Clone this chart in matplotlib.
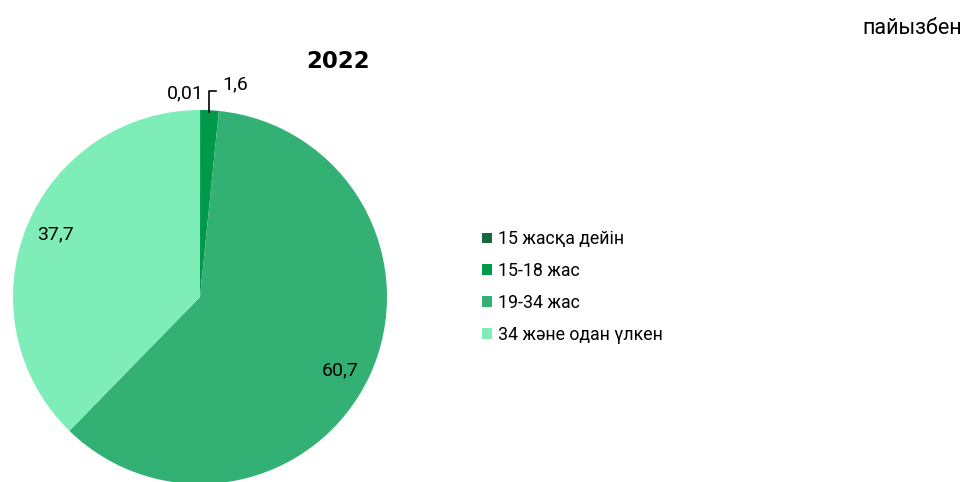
import matplotlib
matplotlib.use("Agg")
import matplotlib.pyplot as plt
from matplotlib.patches import Patch

plt.rcParams['font.family'] = ['Roboto', 'DejaVu Sans']

categories = ["15 жасқа дейін", "15-18 жас", "19-34 жас", "34 және одан үлкен"]
values = [0.01, 1.6, 60.7, 37.7]
value_labels = ["0,01", "1,6", "60,7", "37,7"]
colors = ["#17693C", "#00994A", "#33B073", "#7FEDB8"]
title = "2022"
unit = "пайызбен"

W, H = 964, 482
fig = plt.figure(figsize=(W / 100, H / 100), dpi=100)
cx, cy, r = 200, 297, 187
ax = fig.add_axes([(cx - r) / W, (H - cy - r) / H, 2 * r / W, 2 * r / H])
ax.pie(values, colors=colors, startangle=90, counterclock=False, radius=1.0,
       wedgeprops=dict(linewidth=0))
ax.set_xlim(-1, 1)
ax.set_ylim(-1, 1)
ax.set_aspect('auto')
ax.axis('off')

def d(px, py):
    return ((px - cx) / r, (cy - py) / r)

fs = 14
ax.text(*d(185, 93), value_labels[0], ha='center', va='center', fontsize=fs, clip_on=False)
ax.text(*d(235, 84), value_labels[1], ha='center', va='center', fontsize=fs, clip_on=False)
p0 = d(209, 112); p1 = d(209, 91); p2 = d(216, 91)
ax.plot([p0[0], p1[0], p2[0]], [p0[1], p1[1], p2[1]], color='black', lw=1.2, clip_on=False)
ax.text(*d(55, 234), value_labels[3], ha='center', va='center', fontsize=fs, clip_on=False)
ax.text(*d(340, 370), value_labels[2], ha='center', va='center', fontsize=fs, clip_on=False)

fig.text(338 / W, 1 - 62 / H, title, ha='center', va='center', fontsize=16.5,
         fontweight='bold', family='DejaVu Sans')
fig.text(1 - 2 / W, 1 - 28 / H, unit, ha='right', va='center', fontsize=15.5)

handles = [Patch(facecolor=c, edgecolor='none') for c in colors]
fig.legend(handles, categories, loc='center left', bbox_to_anchor=(482 / W, 1 - 287 / H),
           frameon=False, fontsize=12.8, handlelength=0.55, handleheight=0.55,
           handletextpad=0.35, labelspacing=0.78, borderaxespad=0, borderpad=0)

fig.savefig("out.png", dpi=100)
